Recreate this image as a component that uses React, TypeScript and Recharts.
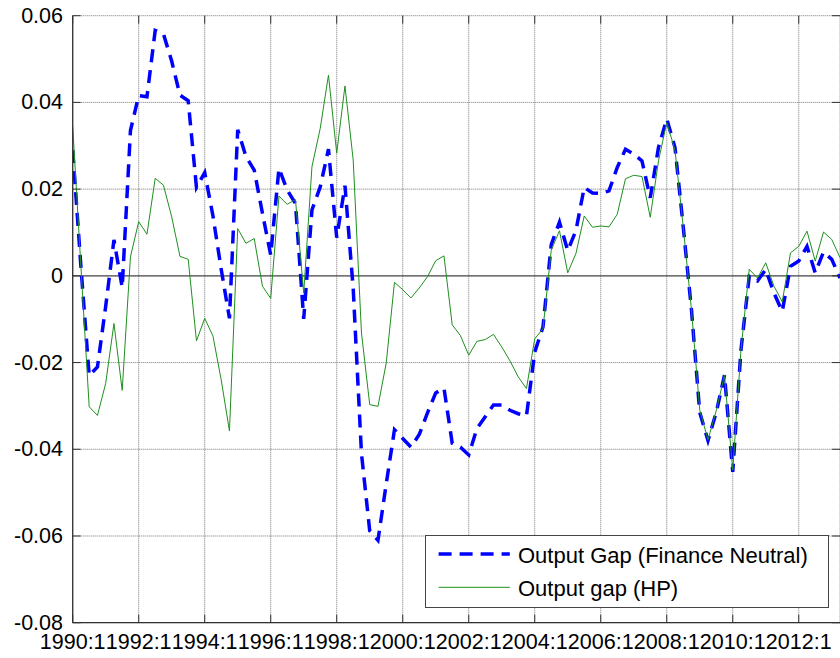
import React from 'react';
import {
  LineChart,
  Line,
  XAxis,
  YAxis,
  CartesianGrid,
  ReferenceLine,
  Legend,
} from 'recharts';

// ---------- data ----------
const START_YEAR = 1990;

const financeNeutralGap: number[] = [
  0.029, 0.002, -0.023, -0.021, -0.007, 0.0083, -0.0027, 0.0335,
  0.0416, 0.0413, 0.0566, 0.0558, 0.0495, 0.0417, 0.0404, 0.0204,
  0.0238, 0.0138, 0.0015, -0.0098, 0.0337, 0.0275, 0.0244, 0.0144,
  0.0048, 0.0248, 0.0198, 0.0167, -0.0099, 0.0152, 0.0205, 0.0292,
  0.0088, 0.0208, -0.003, -0.041, -0.0588, -0.061, -0.048, -0.0355,
  -0.0375, -0.0395, -0.0366, -0.0316, -0.027, -0.0259, -0.0386, -0.0395,
  -0.0413, -0.0352, -0.0325, -0.0298, -0.0298, -0.031, -0.0318, -0.0323,
  -0.0176, -0.0118, 0.0072, 0.0124, 0.0058, 0.0105, 0.0204, 0.0191,
  0.019, 0.0196, 0.025, 0.0292, 0.0281, 0.0265, 0.018, 0.0296,
  0.0362, 0.0296, 0.0113, -0.0079, -0.0315, -0.038, -0.0315, -0.0229,
  -0.0452, -0.017, -0.0001, -0.0012, 0.0015, -0.004, -0.0082, 0.0022,
  0.0034, 0.0068, 0.0007, 0.0055, 0.0038, -0.0005,
];

const hpGap: number[] = [
  0.0345, 0.002, -0.0302, -0.0322, -0.0248, -0.011, -0.0264, 0.0044,
  0.0125, 0.0096, 0.0225, 0.0209, 0.0136, 0.0045, 0.0038, -0.015,
  -0.0098, -0.0139, -0.024, -0.0358, 0.0109, 0.0075, 0.0086, -0.0024,
  -0.0052, 0.0184, 0.0165, 0.0176, -0.004, 0.0252, 0.034, 0.0463,
  0.0283, 0.0438, 0.0267, -0.0132, -0.0297, -0.0301, -0.0201, -0.0015,
  -0.0032, -0.0051, -0.0028, -0.0002, 0.0035, 0.0046, -0.0113, -0.0138,
  -0.0183, -0.0151, -0.0147, -0.0135, -0.0164, -0.0196, -0.0233, -0.026,
  -0.0145, -0.0122, 0.0059, 0.0104, 0.0007, 0.0052, 0.0138, 0.0112,
  0.0115, 0.0113, 0.0142, 0.0224, 0.0232, 0.0229, 0.0135, 0.0265,
  0.0354, 0.029, 0.0113, -0.0079, -0.031, -0.0378, -0.0311, -0.0229,
  -0.0448, -0.017, 0.0015, -0.0005, 0.003, -0.0024, -0.006, 0.0053,
  0.0068, 0.0103, 0.0034, 0.0101, 0.0084, 0.0042,
];

const quarterLabels: string[] = financeNeutralGap.map(
  (_, i) => `${START_YEAR + Math.floor(i / 4)}:${(i % 4) + 1}`
);

const xTickIndices: number[] = [0, 8, 16, 24, 32, 40, 48, 56, 64, 72, 80, 88];
const yTicks: number[] = [-0.08, -0.06, -0.04, -0.02, 0, 0.02, 0.04, 0.06];

const seriesNames = {
  fn: 'Output Gap (Finance Neutral)',
  hp: 'Output gap (HP)',
};

const data = financeNeutralGap.map((v, i) => ({
  idx: i,
  label: quarterLabels[i],
  fn: v,
  hp: hpGap[i],
}));

// ---------- layout / style ----------
const W = 840;
const H = 658;
const PLOT_LEFT = 72.7;
const PLOT_TOP = 15.7;
const PLOT_BOTTOM = 622.7;
const PLOT_RIGHT = 840;
const FONT = "'Liberation Sans', Arial, Helvetica, sans-serif";
const AXIS_COLOR = '#333';
const BLUE = '#0000ff';
const GREEN = '#1f8f1f';
const TICK_LEN = 8;

const fmtY = (v: number) => (v === 0 ? '0' : v.toFixed(2));

const YTick = (props: any) => {
  const { x, y, payload } = props;
  return (
    <g>
      <text
        x={x}
        y={y}
        textAnchor="end"
        dominantBaseline="central"
        fontSize={21.5}
        fontFamily={FONT}
        fill="#000"
      >
        {fmtY(payload.value)}
      </text>
      <line x1={PLOT_LEFT} x2={PLOT_LEFT + TICK_LEN} y1={y} y2={y} stroke={AXIS_COLOR} />
      <line x1={PLOT_RIGHT - TICK_LEN} x2={PLOT_RIGHT} y1={y} y2={y} stroke={AXIS_COLOR} />
    </g>
  );
};

const XTick = (props: any) => {
  const { x, y, payload } = props;
  return (
    <g>
      <text
        x={x}
        y={y}
        textAnchor="middle"
        dominantBaseline="central"
        fontSize={21.5}
        fontFamily={FONT}
        fill="#000"
      >
        {quarterLabels[payload.value]}
      </text>
      <line x1={x} x2={x} y1={PLOT_BOTTOM} y2={PLOT_BOTTOM - TICK_LEN} stroke={AXIS_COLOR} />
      <line x1={x} x2={x} y1={PLOT_TOP} y2={PLOT_TOP + TICK_LEN} stroke={AXIS_COLOR} />
    </g>
  );
};

const LEG_W = 404.6;
const LEG_H = 72.7;

const LegendBox = () => (
  <div
    style={{
      width: LEG_W,
      height: LEG_H,
      border: '1px solid #444',
      background: '#fff',
      boxSizing: 'border-box',
      position: 'relative',
    }}
  >
    <svg width={LEG_W} height={LEG_H} style={{ position: 'absolute', left: -1, top: -1 }}>
      <line x1={13.6} x2={84.8} y1={19} y2={19} stroke={BLUE} strokeWidth={3.5} strokeDasharray="13 8" />
      <text x={93} y={20.7} dominantBaseline="central" fontSize={22} fontFamily={FONT} fill="#000">
        {seriesNames.fn}
      </text>
      <line x1={13.6} x2={84.8} y1={52.3} y2={52.3} stroke={GREEN} strokeWidth={1} />
      <text x={93} y={53.3} dominantBaseline="central" fontSize={22} fontFamily={FONT} fill="#000">
        {seriesNames.hp}
      </text>
    </svg>
  </div>
);

export default function App() {
  return (
    <div style={{ position: 'absolute', left: 0, top: 0, width: W, height: H, background: '#fff' }}>
      <LineChart
        width={W}
        height={H}
        data={data}
        margin={{ top: PLOT_TOP, right: W - PLOT_RIGHT, bottom: 0, left: 0 }}
      >
        <CartesianGrid stroke="#777" strokeDasharray="1 1" />
        <XAxis
          dataKey="idx"
          type="number"
          domain={[0, 93]}
          ticks={xTickIndices}
          interval={0}
          tick={<XTick />}
          tickLine={false}
          tickSize={0}
          tickMargin={19}
          height={H - PLOT_BOTTOM}
          axisLine={{ stroke: AXIS_COLOR, strokeWidth: 1.3 }}
          allowDataOverflow
        />
        <XAxis
          xAxisId="top"
          orientation="top"
          dataKey="idx"
          type="number"
          domain={[0, 93]}
          height={0}
          tick={false}
          tickLine={false}
          axisLine={{ stroke: AXIS_COLOR, strokeWidth: 1.3 }}
        />
        <YAxis
          type="number"
          domain={[-0.08, 0.06]}
          ticks={yTicks}
          interval={0}
          width={PLOT_LEFT}
          tick={<YTick />}
          tickLine={false}
          tickSize={0}
          tickMargin={9.7}
          axisLine={{ stroke: AXIS_COLOR, strokeWidth: 1.3 }}
          allowDataOverflow
        />
        <ReferenceLine y={0} stroke="#555" strokeWidth={1.3} />
        <Line
          type="linear"
          dataKey="fn"
          name={seriesNames.fn}
          stroke={BLUE}
          strokeWidth={3.5}
          strokeDasharray="13 8"
          dot={false}
          activeDot={false}
          isAnimationActive={false}
        />
        <Line
          type="linear"
          dataKey="hp"
          name={seriesNames.hp}
          stroke={GREEN}
          strokeWidth={1}
          dot={false}
          activeDot={false}
          isAnimationActive={false}
        />
        <Legend
          layout="horizontal"
          verticalAlign="middle"
          align="center"
          wrapperStyle={{ left: 424.7, top: 535, width: LEG_W, height: LEG_H, margin: 0 }}
          content={() => <LegendBox />}
        />
      </LineChart>
    </div>
  );
}
